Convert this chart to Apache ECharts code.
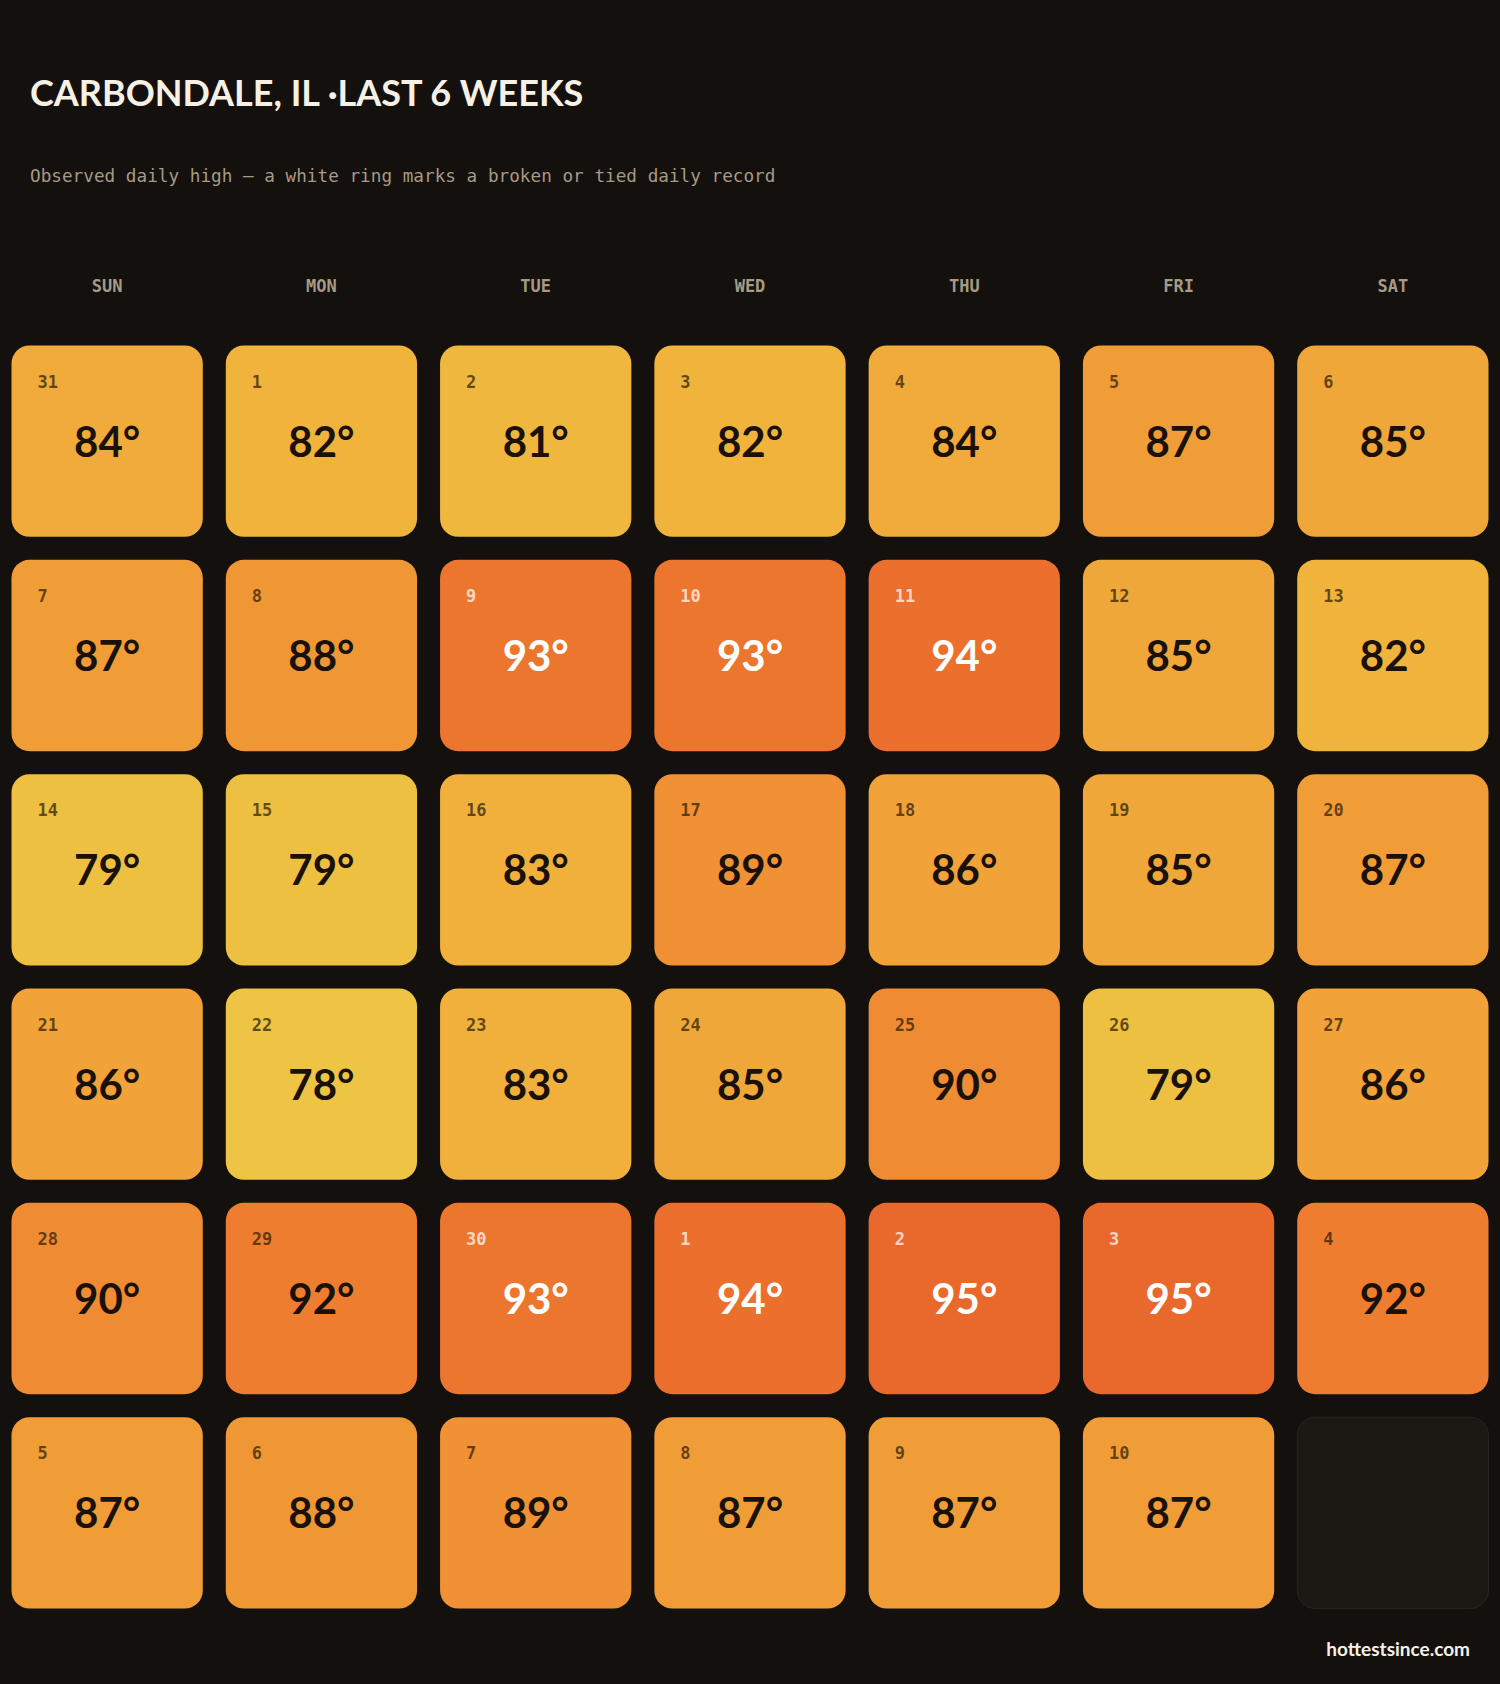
<!DOCTYPE html>
<html>
<head>
<meta charset="utf-8">
<script src="https://cdn.jsdelivr.net/npm/echarts@6/dist/echarts.min.js"></script>
<style>
html,body{margin:0;padding:0;background:#13100d;}
#chart{width:1500px;height:1684px;}
</style>
</head>
<body>
<div id="chart"></div>
<script>
// ---- data ----
const weekdays = ['SUN','MON','TUE','WED','THU','FRI','SAT'];
const weekRows = ['W1','W2','W3','W4','W5','W6'];
const dayNumbers = [
  31,1,2,3,4,5,6,
  7,8,9,10,11,12,13,
  14,15,16,17,18,19,20,
  21,22,23,24,25,26,27,
  28,29,30,1,2,3,4,
  5,6,7,8,9,10,null
];
const highs = [
  84,82,81,82,84,87,85,
  87,88,93,93,94,85,82,
  79,79,83,89,86,85,87,
  86,78,83,85,90,79,86,
  90,92,93,94,95,95,92,
  87,88,89,87,87,87,null
];
const colorStops = ['#edc443','#f0b83e','#f0ad3a','#f1a038','#ef8f33','#ee7c30','#e9682c'];
const whiteTextFrom = 93;

// ---- build ----
const cells = highs.map((v, i) => [i % 7, Math.floor(i / 7), v == null ? '-' : v, dayNumbers[i] == null ? '-' : dayNumbers[i]]);

const chart = echarts.init(document.getElementById('chart'), null, {renderer: 'svg'});
const GAP = 23;
const option = {
  backgroundColor: '#13100d',
  animation: false,
  title: [
    {
      text: 'CARBONDALE, IL ·LAST 6 WEEKS',
      left: 25, top: 69,
      textStyle: {color: '#f6f1e6', fontFamily: 'Lato', fontWeight: 'bold', fontSize: 36}
    },
    {
      text: 'Observed daily high — a white ring marks a broken or tied daily record',
      left: 25, top: 162,
      textStyle: {color: '#a69a84', fontFamily: 'DejaVu Sans Mono', fontWeight: 'normal', fontSize: 17.7}
    },
    {
      text: 'hottestsince.com',
      right: 25, top: 1634,
      textStyle: {color: '#f6f1e6', fontFamily: 'Lato', fontWeight: 'bold', fontSize: 19}
    }
  ],
  grid: {left: 0, right: 0, top: 334, height: 1286, containLabel: false},
  xAxis: {
    type: 'category', data: weekdays, position: 'top',
    axisLine: {show: false}, axisTick: {show: false}, splitLine: {show: false},
    axisLabel: {color: '#a69a84', fontFamily: 'DejaVu Sans Mono', fontWeight: 'bold', fontSize: 17, margin: 40}
  },
  yAxis: {
    type: 'category', data: weekRows, inverse: true,
    axisLine: {show: false}, axisTick: {show: false}, axisLabel: {show: false}, splitLine: {show: false}
  },
  visualMap: {
    show: false, type: 'continuous', min: 78, max: 95, dimension: 2, seriesIndex: 0,
    inRange: {color: colorStops}
  },
  series: [{
    type: 'custom',
    data: cells,
    encode: {x: 0, y: 1},
    renderItem: function (params, api) {
      const c = api.coord([api.value(0), api.value(1)]);
      const s = api.size([1, 1]);
      const w = s[0] - GAP, h = s[1] - GAP;
      const left = c[0] - w / 2, top = c[1] - h / 2;
      const t = api.value(2);
      const d = api.value(3);
      if (t == null || isNaN(t)) {
        return {
          type: 'rect',
          shape: {x: left, y: top, width: w, height: h, r: 18},
          style: {fill: '#1c1814', stroke: '#2a231c', lineWidth: 1}
        };
      }
      const hot = t >= whiteTextFrom;
      return {
        type: 'group',
        children: [
          {
            type: 'rect',
            shape: {x: left, y: top, width: w, height: h, r: 18},
            style: {fill: api.visual('color')}
          },
          {
            type: 'text',
            x: left + 26, y: top + 36,
            style: {
              text: String(d),
              fill: hot ? 'rgba(255,255,255,0.72)' : 'rgba(45,28,5,0.72)',
              fontFamily: 'DejaVu Sans Mono', fontWeight: 'bold', fontSize: 17,
              align: 'left', verticalAlign: 'middle'
            }
          },
          {
            type: 'text',
            x: c[0], y: top + 95,
            style: {
              text: t + '°',
              fill: hot ? '#ffffff' : '#1a120a',
              fontFamily: 'Lato', fontWeight: 'bold', fontSize: 42,
              align: 'center', verticalAlign: 'middle'
            }
          }
        ]
      };
    }
  }]
};
chart.setOption(option);
</script>
</body>
</html>
